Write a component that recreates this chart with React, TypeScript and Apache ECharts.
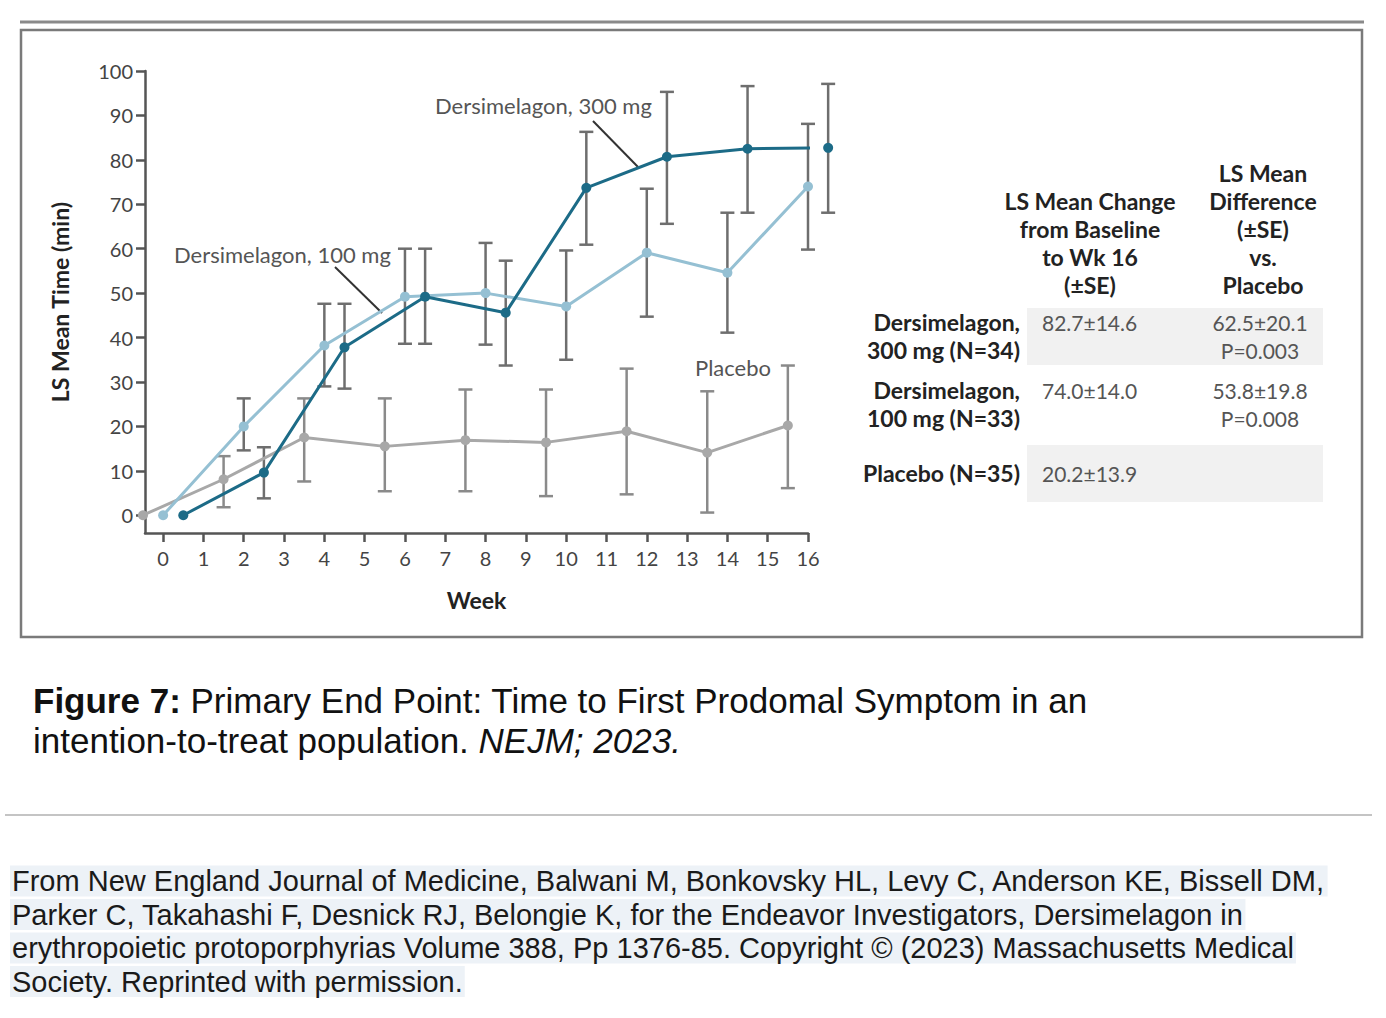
import React, { useEffect, useRef } from "react";
import * as echarts from "echarts";

// ---------- data ----------
const weekTicks = [0, 1, 2, 3, 4, 5, 6, 7, 8, 9, 10, 11, 12, 13, 14, 15, 16];
const yTicks = [0, 10, 20, 30, 40, 50, 60, 70, 80, 90, 100];

const placeboWeeks = [-0.5, 1.5, 3.5, 5.5, 7.5, 9.5, 11.5, 13.5, 15.5];
const placeboMean = [0, 8.1, 17.5, 15.5, 16.9, 16.4, 18.9, 14.1, 20.2];
const placeboLow = [null, 1.8, 7.6, 5.4, 5.4, 4.3, 4.7, 0.6, 6.1];
const placeboHigh = [null, 13.3, 26.3, 26.3, 28.3, 28.3, 33.0, 27.9, 33.7];

const dose100Weeks = [0, 2, 4, 6, 8, 10, 12, 14, 16];
const dose100Mean = [0, 20.0, 38.2, 49.2, 50.0, 47.0, 59.1, 54.6, 74.0];
const dose100Low = [null, 14.6, 29.0, 38.6, 38.4, 35.0, 44.7, 41.1, 59.8];
const dose100High = [null, 26.3, 47.6, 60.0, 61.3, 59.6, 73.5, 68.1, 88.1];

const dose300Weeks = [0.5, 2.5, 4.5, 6.5, 8.5, 10.5, 12.5, 14.5, 16.5];
const dose300Mean = [0, 9.6, 37.8, 49.2, 45.6, 73.7, 80.7, 82.5, 82.7];
const dose300Low = [null, 3.8, 28.5, 38.6, 33.7, 60.9, 65.6, 68.1, 68.1];
const dose300High = [null, 15.3, 47.6, 60.0, 57.3, 86.3, 95.3, 96.6, 97.1];

const colHeader1 = ["LS Mean Change", "from Baseline", "to Wk 16", "(±SE)"];
const colHeader2 = ["LS Mean", "Difference", "(±SE)", "vs.", "Placebo"];
const rowLabels = [
  ["Dersimelagon,", "300 mg (N=34)"],
  ["Dersimelagon,", "100 mg (N=33)"],
  ["Placebo (N=35)"],
];
const changeValues = ["82.7±14.6", "74.0±14.0", "20.2±13.9"];
const diffValues = [["62.5±20.1", "P=0.003"], ["53.8±19.8", "P=0.008"], []];

const captionLine1 = "Primary End Point: Time to First Prodomal Symptom in an";
const captionLine2 = "intention-to-treat population. ";
const footerLines = [
  "From New England Journal of Medicine, Balwani M, Bonkovsky HL, Levy C, Anderson KE, Bissell DM,",
  "Parker C, Takahashi F, Desnick RJ, Belongie K, for the Endeavor Investigators, Dersimelagon in",
  "erythropoietic protoporphyrias Volume 388, Pp 1376-85. Copyright © (2023) Massachusetts Medical",
  "Society. Reprinted with permission.",
];

const C300 = "#1c6b87";
const C100 = "#95c0d3";
const CPLA = "#a8a8a8";
const FONT = "Lato, 'Open Sans', sans-serif";
const ARIAL = "'Liberation Sans', Arial, sans-serif";

function pts(xs: number[], ys: number[]) {
  return xs.map((x, i) => [x, ys[i]]);
}
function bars(xs: number[], lo: (number | null)[], hi: (number | null)[]) {
  const out: number[][] = [];
  xs.forEach((x, i) => {
    if (lo[i] != null && hi[i] != null) out.push([x, lo[i] as number, hi[i] as number]);
  });
  return out;
}

function errSeries(data: number[][], color: string) {
  return {
    type: "custom",
    clip: false,
    z: 1,
    data,
    encode: { x: 0, y: [1, 2] },
    renderItem: (params: any, api: any) => {
      const x = api.value(0);
      const lo = api.coord([x, api.value(1)]);
      const hi = api.coord([x, api.value(2)]);
      const hw = 7;
      const st = { stroke: color, lineWidth: 2.5 };
      return {
        type: "group",
        children: [
          { type: "line", shape: { x1: lo[0], y1: lo[1], x2: hi[0], y2: hi[1] }, style: st },
          { type: "line", shape: { x1: lo[0] - hw, y1: lo[1], x2: lo[0] + hw, y2: lo[1] }, style: st },
          { type: "line", shape: { x1: hi[0] - hw, y1: hi[1], x2: hi[0] + hw, y2: hi[1] }, style: st },
        ],
      };
    },
  };
}

function lineSeries(name: string, data: number[][], color: string, z: number) {
  return {
    type: "line",
    name,
    data,
    clip: false,
    z,
    symbol: "circle",
    symbolSize: 10,
    lineStyle: { color, width: 3 },
    itemStyle: { color },
  };
}

export default function App() {
  const ref = useRef<HTMLDivElement>(null);
  useEffect(() => {
    if (!ref.current) return;
    const chart = echarts.init(ref.current, undefined, { renderer: "svg" });

    const graphics: any[] = [];
    // frame
    graphics.push({ type: "line", shape: { x1: 20, y1: 22, x2: 1364, y2: 22 }, style: { stroke: "#8a8a8a", lineWidth: 3 } });
    graphics.push({ type: "rect", shape: { x: 21, y: 30, width: 1341, height: 607 }, style: { fill: "none", stroke: "#7a7a7a", lineWidth: 2.5 } });
    // annotations
    const annStyle = { fill: "#555", fontFamily: FONT, fontSize: 22, verticalAlign: "middle" };
    graphics.push({ type: "text", x: 174, y: 254, style: { ...annStyle, text: "Dersimelagon, 100 mg" } });
    graphics.push({ type: "line", shape: { x1: 335, y1: 267, x2: 382, y2: 313 }, style: { stroke: "#333", lineWidth: 2 } });
    graphics.push({ type: "text", x: 435, y: 105, style: { ...annStyle, text: "Dersimelagon, 300 mg" } });
    graphics.push({ type: "line", shape: { x1: 593, y1: 121, x2: 638, y2: 167 }, style: { stroke: "#333", lineWidth: 2 } });
    graphics.push({ type: "text", x: 695, y: 367, style: { ...annStyle, text: "Placebo" } });

    // table shading
    graphics.push({ type: "rect", shape: { x: 1027, y: 308, width: 296, height: 57 }, style: { fill: "#f1f1f1" } });
    graphics.push({ type: "rect", shape: { x: 1027, y: 445, width: 296, height: 57 }, style: { fill: "#f1f1f1" } });
    const hdr = { fill: "#222", fontFamily: FONT, fontSize: 23, fontWeight: "bold", align: "center", verticalAlign: "middle" };
    colHeader1.forEach((t, i) => graphics.push({ type: "text", x: 1090, y: 201 + i * 28, style: { ...hdr, text: t } }));
    colHeader2.forEach((t, i) => graphics.push({ type: "text", x: 1263, y: 173 + i * 28, style: { ...hdr, text: t } }));
    const rowY = [322, 390, 473];
    const lbl = { fill: "#222", fontFamily: FONT, fontSize: 23, fontWeight: "bold", align: "right", verticalAlign: "middle" };
    const val = { fill: "#555", fontFamily: FONT, fontSize: 21, verticalAlign: "middle" };
    rowLabels.forEach((lines, r) =>
      lines.forEach((t, i) => graphics.push({ type: "text", x: 1020, y: rowY[r] + i * 28, style: { ...lbl, text: t } }))
    );
    changeValues.forEach((t, r) => graphics.push({ type: "text", x: 1042, y: rowY[r], style: { ...val, align: "left", text: t } }));
    diffValues.forEach((lines, r) =>
      lines.forEach((t, i) => graphics.push({ type: "text", x: 1260, y: rowY[r] + i * 28, style: { ...val, align: "center", text: t } }))
    );

    // caption
    graphics.push({
      type: "text", x: 33, y: 700,
      style: {
        text: "{b|Figure 7:} " + captionLine1,
        fontFamily: ARIAL, fontSize: 35, fill: "#111", verticalAlign: "middle",
        rich: { b: { fontFamily: ARIAL, fontSize: 35, fontWeight: "bold", fill: "#111" } },
      },
    });
    graphics.push({
      type: "text", x: 33, y: 740,
      style: {
        text: captionLine2 + "{i|NEJM; 2023.}",
        fontFamily: ARIAL, fontSize: 35, fill: "#111", verticalAlign: "middle",
        rich: { i: { fontFamily: ARIAL, fontSize: 35, fontStyle: "italic", fill: "#111" } },
      },
    });
    graphics.push({ type: "line", shape: { x1: 5, y1: 815, x2: 1372, y2: 815 }, style: { stroke: "#c4c4c4", lineWidth: 2 } });
    footerLines.forEach((t, i) =>
      graphics.push({
        type: "text", x: 10, y: 881 + i * 33.5,
        style: {
          text: t, fontFamily: ARIAL, fontSize: 29, fill: "#1a1a1a", verticalAlign: "middle",
          backgroundColor: "#edf2f7", padding: [1, 2, 1, 2],
        },
      })
    );

    chart.setOption({
      animation: false,
      backgroundColor: "#ffffff",
      grid: { left: 145, right: 578, top: 71, bottom: 485 },
      xAxis: {
        type: "value",
        min: -0.45,
        max: 16,
        name: "Week",
        nameLocation: "middle",
        nameGap: 55,
        nameTextStyle: { fontFamily: FONT, fontSize: 23, fontWeight: "bold", color: "#222" },
        axisLine: { show: true, onZero: false, lineStyle: { color: "#555", width: 2.5 } },
        axisTick: { show: true, customValues: weekTicks, length: 9, lineStyle: { color: "#555", width: 2.5 } },
        axisLabel: { customValues: weekTicks, fontFamily: FONT, fontSize: 20, color: "#444", margin: 15 },
        splitLine: { show: false },
      },
      yAxis: {
        type: "value",
        min: -4,
        max: 100,
        name: "LS Mean Time (min)",
        nameLocation: "middle",
        nameGap: 74,
        nameTextStyle: { fontFamily: FONT, fontSize: 23, fontWeight: "bold", color: "#222" },
        axisLine: { show: true, onZero: false, lineStyle: { color: "#555", width: 2.5 } },
        axisTick: { show: true, customValues: yTicks, length: 9, lineStyle: { color: "#555", width: 2.5 } },
        axisLabel: { customValues: yTicks, fontFamily: FONT, fontSize: 20, color: "#444", margin: 12 },
        splitLine: { show: false },
      },
      series: [
        errSeries(bars(placeboWeeks, placeboLow, placeboHigh), "#8a8a8a"),
        errSeries(bars(dose100Weeks, dose100Low, dose100High), "#6e6e6e"),
        errSeries(bars(dose300Weeks, dose300Low, dose300High), "#6e6e6e"),
        lineSeries("Placebo", pts(placeboWeeks, placeboMean), CPLA, 2),
        lineSeries("Dersimelagon, 100 mg", pts(dose100Weeks, dose100Mean), C100, 3),
        lineSeries("Dersimelagon, 300 mg", pts(dose300Weeks, dose300Mean), C300, 4),
      ],
      graphic: graphics,
    });
    return () => chart.dispose();
  }, []);
  return (
    <div
      ref={ref}
      style={{ position: "fixed", left: 0, top: 0, width: 1386, height: 1018, background: "#fff" }}
    />
  );
}
